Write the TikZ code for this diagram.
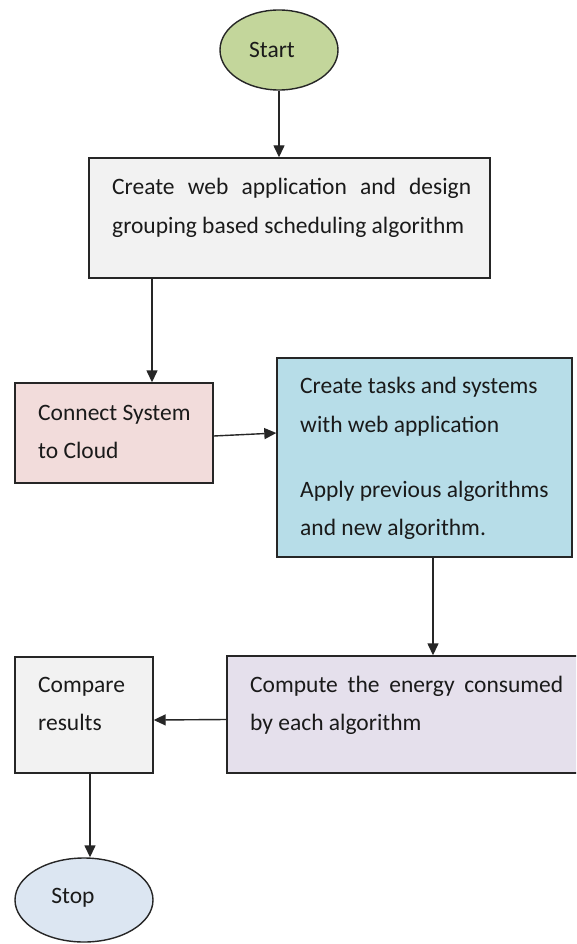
\documentclass[tikz,border=0pt]{standalone}
\usepackage{fontspec}
\setmainfont{Carlito}
\usetikzlibrary{shapes.geometric,arrows.meta}

\definecolor{startfill}{HTML}{C3D69B}
\definecolor{greyfill}{HTML}{F2F2F2}
\definecolor{pinkfill}{HTML}{F2DCDB}
\definecolor{bluefill}{HTML}{B7DDE8}
\definecolor{lilacfill}{HTML}{E5E0EC}
\definecolor{stopfill}{HTML}{DCE6F2}
\definecolor{edge}{HTML}{262626}
\definecolor{ink}{HTML}{1A1A1A}

\tikzset{
  stepbox/.style={draw=edge, line width=1.4pt, rectangle, inner sep=0pt},
  terminal/.style={draw=edge, line width=1.4pt, ellipse, inner sep=0pt},
  txt/.style={anchor=base west, inner sep=0pt, text=ink,
              font=\fontsize{23.5}{28}\selectfont},
  ctxt/.style={anchor=base, inner sep=0pt, text=ink,
              font=\fontsize{23.5}{28}\selectfont},
  flow/.style={draw=edge, line width=1.4pt,
               -{Triangle[length=12pt,width=11pt]}}
}

\begin{document}
\begin{tikzpicture}[x=1pt,y=-1pt]
  \clip (0,0) rectangle (576,944);
  \fill[white] (0,0) rectangle (576,944);

  % terminals and process boxes
  \node[terminal, fill=startfill, minimum width=118pt, minimum height=80pt] (start) at (279,50) {};
  \node[stepbox, fill=greyfill, minimum width=401pt, minimum height=120pt] (design) at (289.5,218) {};
  \node[stepbox, fill=pinkfill, minimum width=198pt, minimum height=100pt] (connect) at (114,433) {};
  \node[stepbox, fill=bluefill, minimum width=295pt, minimum height=199pt] (tasks) at (424.5,457.5) {};
  \node[stepbox, fill=lilacfill, minimum width=363pt, minimum height=117pt] (energy) at (408.5,714.5) {};
  \node[stepbox, fill=greyfill, minimum width=138pt, minimum height=116pt] (compare) at (84,715) {};
  \node[terminal, fill=stopfill, minimum width=138pt, minimum height=84pt] (stop) at (84,900) {};

  % labels
  \node[ctxt] (startlbl) at (272,58) {Start};
  \node[txt] (d1) at (112,194) {\makebox[359pt][s]{Create web application and design}};
  \node[txt] (d2) at (112,233) {grouping based scheduling algorithm};
  \node[txt] (c1) at (38,420) {Connect System};
  \node[txt] (c2) at (38,458) {to Cloud};
  \node[txt] (t1) at (300,393) {Create tasks and systems};
  \node[txt] (t2) at (300,432) {with web application};
  \node[txt] (t3) at (300,497) {Apply previous algorithms};
  \node[txt] (t4) at (300,535) {and new algorithm.};
  \node[txt] (e1) at (250,692) {\makebox[313pt][s]{Compute the energy consumed}};
  \node[txt] (e2) at (250,730) {by each algorithm};
  \node[txt] (r1) at (38,692) {Compare};
  \node[txt] (r2) at (38,730) {results};
  \node[ctxt] (stoplbl) at (73,903) {Stop};

  % connector columns
  \coordinate (colA) at (152,0);
  \coordinate (colB) at (433,0);
  \coordinate (colC) at (90,0);

  % connectors
  \draw[flow] (start.south) -- (design.north -| start.south);
  \draw[flow] (design.south -| colA) -- (connect.north -| colA);
  \draw[flow] ([yshift=-3pt]connect.east) -- (tasks.west |- connect.east);
  \draw[flow] (tasks.south -| colB) -- (energy.north -| colB);
  \draw[flow] ([yshift=-5pt]energy.west) -- ([yshift=-5pt]compare.east);
  \draw[flow] (compare.south -| colC) -- (stop.north -| colC);
\end{tikzpicture}
\end{document}
